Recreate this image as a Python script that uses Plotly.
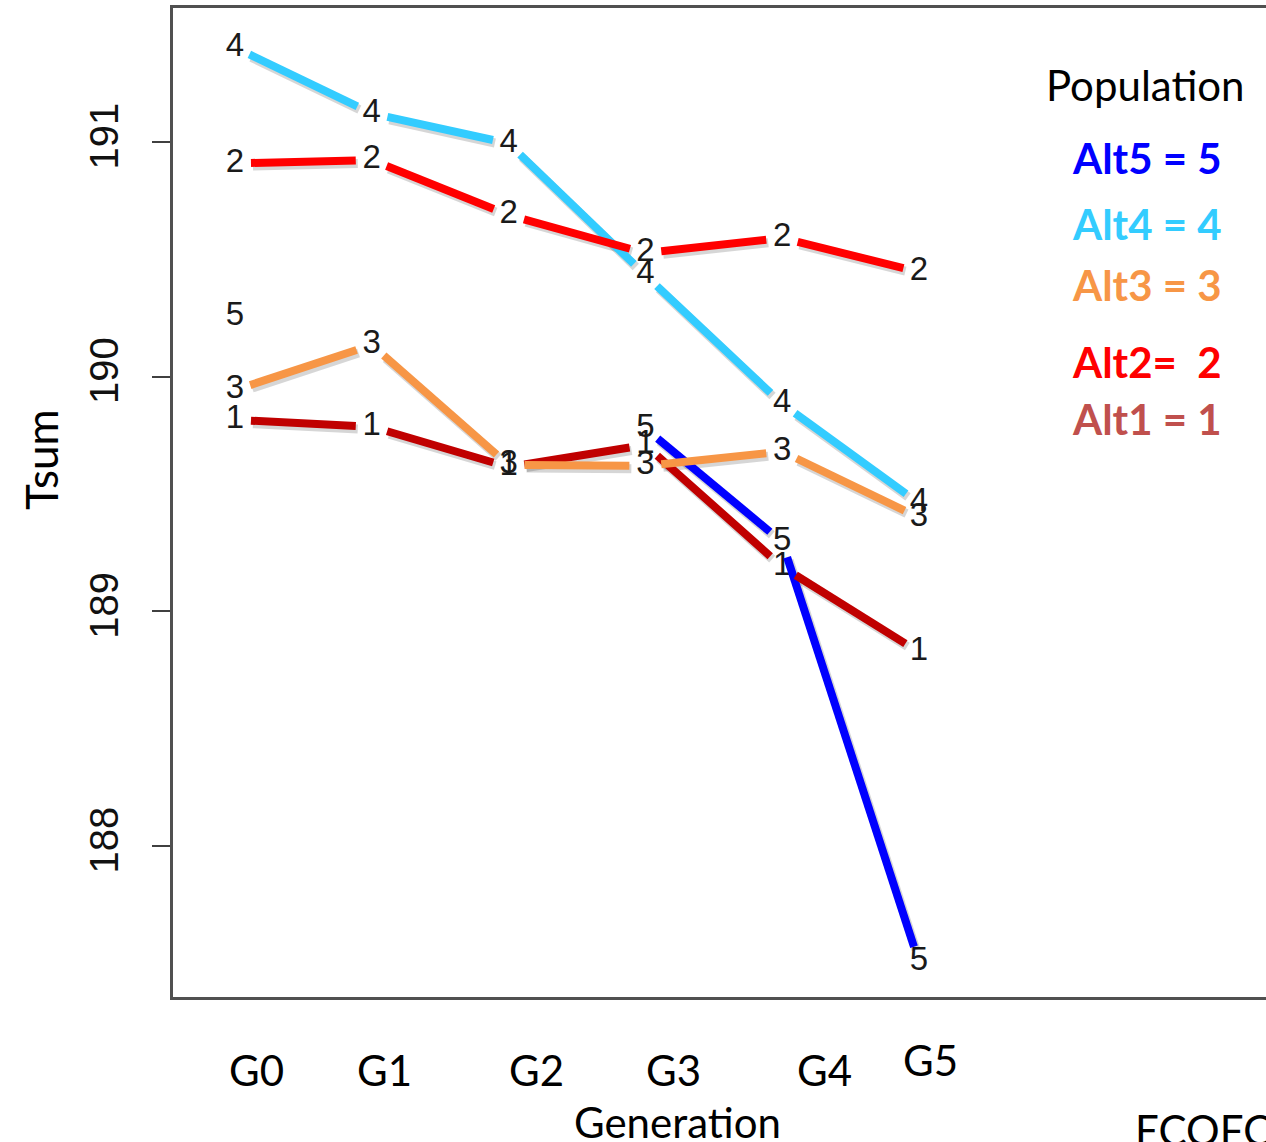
import numpy as np
import plotly.graph_objects as go

# ---------------- data ----------------
generations = ["G0", "G1", "G2", "G3", "G4", "G5"]
gen_index = [1, 2, 3, 4, 5, 6]
alt1 = [189.816, 189.787, 189.615, 189.709, 189.190, 188.827]
alt2 = [190.909, 190.923, 190.689, 190.527, 190.591, 190.446]
alt3 = [189.943, 190.135, 189.624, 189.620, 189.681, 189.400]
alt4 = [191.403, 191.122, 190.994, 190.433, 189.884, 189.461]
alt5 = [190.256, None, None, 189.780, 189.296, 187.506]
y_ticks = [188, 189, 190, 191]
legend_labels = ["Alt5 = 5", "Alt4 = 4", "Alt3 = 3", "Alt2=  2", "Alt1 = 1"]

# ---------------- style / layout ----------------
W, H = 1266, 1142
REF_L, REF_T, REF_B = 173, 8, 997   # plot frame in the reference picture
ML, MT, MR = REF_L, REF_T, 0
MB = H - REF_B
XR = [0.547, 8.537]
YR = [187.357, 191.571]
PW, PH = W - ML - MR, H - MT - MB
SX = PW / (XR[1] - XR[0])
SY = PH / (YR[1] - YR[0])


def px(xr):
    return (xr - REF_L) / PW


def py(yr):
    return (REF_B - yr) / PH


series = {
    "4": (alt4, "#33CCFF"),
    "2": (alt2, "#FF0000"),
    "5": (alt5, "#0000FF"),
    "1": (alt1, "#C00000"),
    "3": (alt3, "#F79646"),
}
label_order = ["1", "2", "3", "4", "5"]
legend_colors = ["#0000FF", "#33CCFF", "#F79646", "#FF0000", "#C0504D"]

R_FONT = "Liberation Sans, Arial, sans-serif"
C_FONT = "Lato, Carlito, Calibri, sans-serif"
GAP = 16  # px gap at each end of a segment (type="b" look)


def gapped(xs, ys, gap, dx=0.0, dy=0.0):
    ox, oy = [], []
    for i in range(len(xs) - 1):
        if ys[i] is None or ys[i + 1] is None:
            continue
        x0, y0 = xs[i] * SX, ys[i] * SY
        x1, y1 = xs[i + 1] * SX, ys[i + 1] * SY
        L = np.hypot(x1 - x0, y1 - y0)
        ux, uy = (x1 - x0) / L, (y1 - y0) / L
        a = (x0 + ux * gap, y0 + uy * gap)
        b = (x1 - ux * gap, y1 - uy * gap)
        ox += [(a[0] + dx) / SX, (b[0] + dx) / SX, None]
        oy += [(a[1] - dy) / SY, (b[1] - dy) / SY, None]
    return ox, oy


fig = go.Figure()

# R-style number labels
for k in label_order:
    vals = series[k][0]
    xs = [x for x, v in zip(gen_index, vals) if v is not None]
    ys = [v for v in vals if v is not None]
    fig.add_trace(go.Scatter(
        x=xs, y=ys, mode="text", text=[k] * len(xs),
        textposition="middle center",
        textfont=dict(family=R_FONT, size=33, color="#1a1a1a"),
        hoverinfo="skip", showlegend=False))

# shadows
for k in ["4", "2", "5", "1", "3"]:
    vals, col = series[k]
    sx_, sy_ = gapped(gen_index, vals, GAP, dx=2, dy=3)
    fig.add_trace(go.Scatter(x=sx_, y=sy_, mode="lines",
                             line=dict(color="rgba(0,0,0,0.16)", width=9),
                             hoverinfo="skip", showlegend=False))

# thick coloured overlay lines
for k in ["4", "2", "5", "1", "3"]:
    vals, col = series[k]
    lx, ly = gapped(gen_index, vals, GAP)
    fig.add_trace(go.Scatter(x=lx, y=ly, mode="lines",
                             line=dict(color=col, width=8),
                             hoverinfo="skip", showlegend=False))

ann = []
# generation labels (hand-placed in the original)
g_shift = [0.155, 0.095, 0.205, 0.205, 0.307, 0.088]
g_y = [1070, 1070, 1070, 1070, 1070, 1060]
for g, xi, s, yy in zip(generations, gen_index, g_shift, g_y):
    ann.append(dict(x=xi + s, y=py(yy), xref="x", yref="paper", text=g,
                    showarrow=False, xanchor="center", yanchor="middle",
                    font=dict(family=C_FONT, size=42, color="#000000")))
ann.append(dict(x=px(677), y=py(1122), xref="paper", yref="paper",
                text="Generation", showarrow=False, xanchor="center", yanchor="middle",
                font=dict(family=C_FONT, size=42, color="#000000")))
ann.append(dict(x=px(1133), y=py(1130), xref="paper", yref="paper",
                text="ECOFO", showarrow=False, xanchor="left", yanchor="middle",
                font=dict(family=C_FONT, size=42, color="#000000")))
ann.append(dict(x=px(41), y=py(460), xref="paper", yref="paper",
                text="Tsum", textangle=-90, showarrow=False,
                xanchor="center", yanchor="middle",
                font=dict(family=C_FONT, size=44, color="#000000")))
# legend block
ann.append(dict(x=px(1145), y=py(85), xref="paper", yref="paper",
                text="Population", showarrow=False, xanchor="center", yanchor="middle",
                font=dict(family=C_FONT, size=42, color="#000000")))
leg_y = [158, 224, 285, 362, 419]
for t, c, yy in zip(legend_labels, legend_colors, leg_y):
    ann.append(dict(x=px(1070), y=py(yy), xref="paper", yref="paper",
                    text="<b>" + t + "</b>", showarrow=False,
                    xanchor="left", yanchor="middle",
                    font=dict(family=C_FONT, size=42, color=c)))

fig.update_layout(
    width=W, height=H,
    margin=dict(l=ML, r=MR, t=MT, b=MB, pad=0),
    paper_bgcolor="white", plot_bgcolor="white",
    showlegend=False,
    annotations=ann,
    xaxis=dict(range=XR, showgrid=False, zeroline=False, showticklabels=False,
               ticks="", showline=True, linecolor="#505050", linewidth=3,
               mirror=True, fixedrange=True),
    yaxis=dict(range=YR, showgrid=False, zeroline=False,
               tickvals=y_ticks, ticktext=[str(v) for v in y_ticks],
               ticks="outside", ticklen=18, tickwidth=2, tickcolor="#404040",
               tickangle=-90, ticklabelstandoff=18,
               tickfont=dict(family=R_FONT, size=40, color="#111111"),
               showline=True, linecolor="#505050", linewidth=3, mirror=False,
               fixedrange=True),
)

fig.write_html(
    "out.html",
    config={"displayModeBar": False, "staticPlot": True},
    post_script="document.body.style.margin='0px';document.body.style.overflow='hidden';",
)
